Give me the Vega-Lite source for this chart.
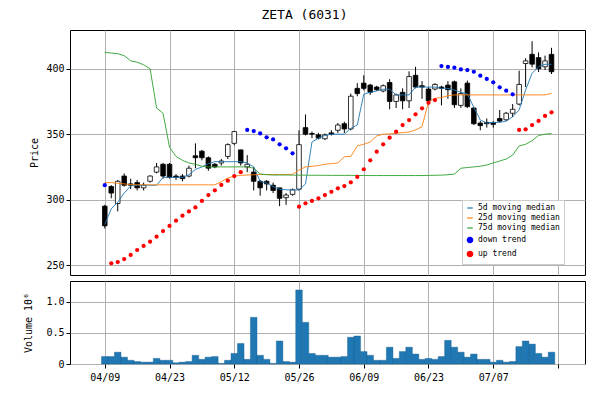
{
  "$schema": "https://vega.github.io/schema/vega-lite/v6.json",
  "title": {"text": "ZETA (6031)", "font": "DejaVu Sans Mono", "fontSize": 13, "fontWeight": "normal", "offset": 8, "anchor": "middle"},
  "padding": {"left": 23, "top": 8, "right": 10, "bottom": 5},
  "spacing": 0,
  "config": {
    "font": "DejaVu Sans Mono",
    "view": {"stroke": "black", "strokeWidth": 1},
    "axis": {"labelFont": "DejaVu Sans Mono", "titleFont": "DejaVu Sans Mono", "labelFontSize": 10, "titleFontSize": 10, "titleFontWeight": "normal", "labelColor": "black", "titleColor": "black", "domain": false, "tickColor": "black", "gridColor": "#b0b0b0", "gridOpacity": 1, "tickSize": 4}
  },
  "datasets": {
    "stock": [
      {"i":0,"o":295,"h":296,"l":278,"c":280,"v":120000,"m5":281,"m25":313,"m75":412.5,"down":311,"up":null},
      {"i":1,"o":310,"h":311,"l":301,"c":305,"v":120000,"m5":293,"m25":313,"m75":412,"down":null,"up":251.3},
      {"i":2,"o":297,"h":315,"l":291,"c":314,"v":190000,"m5":298,"m25":312.5,"m75":411.5,"down":null,"up":252.3},
      {"i":3,"o":318,"h":320,"l":310,"c":311,"v":110000,"m5":305,"m25":312,"m75":410,"down":null,"up":254.6},
      {"i":4,"o":312,"h":316,"l":308,"c":311,"v":60000,"m5":310.5,"m25":311.5,"m75":406,"down":null,"up":257.7},
      {"i":5,"o":313,"h":315,"l":307,"c":309,"v":40000,"m5":311,"m25":311.3,"m75":405,"down":null,"up":261.5},
      {"i":6,"o":309,"h":313,"l":307,"c":311,"v":30000,"m5":311,"m25":311.3,"m75":403,"down":null,"up":264.6},
      {"i":7,"o":314,"h":318.5,"l":313,"c":318,"v":30000,"m5":311,"m25":311.3,"m75":400,"down":null,"up":267.9},
      {"i":8,"o":321,"h":328,"l":320,"c":325,"v":90000,"m5":311,"m25":311.3,"m75":370,"down":null,"up":271.7},
      {"i":9,"o":327,"h":328,"l":316,"c":318,"v":60000,"m5":317,"m25":311.3,"m75":366,"down":null,"up":276},
      {"i":10,"o":327,"h":328,"l":316,"c":317,"v":60000,"m5":317,"m25":311.3,"m75":340,"down":null,"up":279.9},
      {"i":11,"o":318,"h":319.5,"l":315,"c":317,"v":20000,"m5":317,"m25":311.3,"m75":333,"down":null,"up":283.9},
      {"i":12,"o":318,"h":319.5,"l":314,"c":316,"v":30000,"m5":317,"m25":311.3,"m75":330,"down":null,"up":287.7},
      {"i":13,"o":318,"h":326,"l":317,"c":324,"v":40000,"m5":319,"m25":311.3,"m75":328,"down":null,"up":291},
      {"i":14,"o":333.5,"h":343,"l":324,"c":332,"v":140000,"m5":323,"m25":311.3,"m75":327,"down":null,"up":294},
      {"i":15,"o":337,"h":338,"l":330,"c":332,"v":75000,"m5":325,"m25":311.3,"m75":325.5,"down":null,"up":299},
      {"i":16,"o":332,"h":333,"l":322,"c":324,"v":110000,"m5":327.5,"m25":311.3,"m75":325,"down":null,"up":303.5},
      {"i":17,"o":327,"h":328,"l":324,"c":325,"v":120000,"m5":329,"m25":311.3,"m75":325,"down":null,"up":307.1},
      {"i":18,"o":328,"h":331,"l":326,"c":329.5,"v":10000,"m5":329,"m25":313.7,"m75":325,"down":null,"up":311.2},
      {"i":19,"o":333,"h":343,"l":331,"c":342,"v":60000,"m5":329,"m25":316.5,"m75":325,"down":null,"up":314.5},
      {"i":20,"o":343,"h":352.5,"l":341.5,"c":352,"v":170000,"m5":329,"m25":318,"m75":325,"down":null,"up":318},
      {"i":21,"o":338,"h":338,"l":326,"c":328,"v":330000,"m5":329,"m25":318.5,"m75":325,"down":null,"up":321},
      {"i":22,"o":325,"h":334,"l":321,"c":327,"v":75000,"m5":328,"m25":318.8,"m75":325,"down":353.2,"up":null},
      {"i":23,"o":321,"h":325,"l":307,"c":314,"v":750000,"m5":325,"m25":319,"m75":324,"down":352.4,"up":null},
      {"i":24,"o":314,"h":315,"l":303,"c":309,"v":140000,"m5":314,"m25":319.2,"m75":319.6,"down":350.6,"up":null},
      {"i":25,"o":314,"h":315,"l":307,"c":312,"v":75000,"m5":312.5,"m25":319.2,"m75":319,"down":347.6,"up":null},
      {"i":26,"o":311,"h":313,"l":305,"c":307,"v":10000,"m5":310,"m25":319.2,"m75":318.8,"down":346,"up":null},
      {"i":27,"o":309,"h":309,"l":295,"c":301,"v":370000,"m5":308,"m25":319.2,"m75":318.8,"down":342.3,"up":null},
      {"i":28,"o":301.5,"h":305,"l":296,"c":303.5,"v":40000,"m5":307.5,"m25":319.2,"m75":318.8,"down":339.2,"up":null},
      {"i":29,"o":304,"h":308.5,"l":303,"c":307.5,"v":30000,"m5":307.4,"m25":319.3,"m75":318.7,"down":335.4,"up":null},
      {"i":30,"o":308,"h":353,"l":307,"c":342,"v":1190000,"m5":307.4,"m25":322.6,"m75":318.7,"down":null,"up":294.6},
      {"i":31,"o":355,"h":365,"l":349,"c":350,"v":670000,"m5":312,"m25":325,"m75":318.7,"down":null,"up":297.2},
      {"i":32,"o":350.5,"h":352,"l":347,"c":350,"v":170000,"m5":344,"m25":325.5,"m75":318.6,"down":null,"up":299},
      {"i":33,"o":349.5,"h":351,"l":346,"c":347,"v":140000,"m5":347,"m25":326,"m75":318.6,"down":null,"up":301},
      {"i":34,"o":346.5,"h":350.5,"l":345.5,"c":349.5,"v":140000,"m5":349,"m25":327,"m75":318.6,"down":null,"up":303.5},
      {"i":35,"o":351,"h":353,"l":349,"c":350,"v":110000,"m5":350,"m25":327.5,"m75":318.5,"down":null,"up":306},
      {"i":36,"o":353,"h":358.5,"l":351,"c":357,"v":110000,"m5":350,"m25":328,"m75":318.5,"down":null,"up":308.6},
      {"i":37,"o":358,"h":359.5,"l":351,"c":354,"v":120000,"m5":350,"m25":332.8,"m75":318.5,"down":null,"up":310.4},
      {"i":38,"o":354,"h":381,"l":353,"c":379,"v":430000,"m5":354.5,"m25":333,"m75":318.5,"down":null,"up":313.2},
      {"i":39,"o":385,"h":389,"l":379,"c":381,"v":450000,"m5":357,"m25":341,"m75":318.5,"down":null,"up":317.3},
      {"i":40,"o":389,"h":395,"l":383.5,"c":385,"v":200000,"m5":380.5,"m25":342.3,"m75":318.4,"down":null,"up":323.2},
      {"i":41,"o":387.5,"h":388.5,"l":380,"c":382,"v":140000,"m5":382,"m25":344,"m75":318.4,"down":null,"up":330},
      {"i":42,"o":386,"h":387,"l":383,"c":384,"v":60000,"m5":383,"m25":348.6,"m75":318.4,"down":null,"up":336.6},
      {"i":43,"o":383,"h":388,"l":382,"c":387,"v":60000,"m5":384.3,"m25":350,"m75":318.4,"down":null,"up":342.3},
      {"i":44,"o":389.5,"h":392,"l":369,"c":375,"v":270000,"m5":384.3,"m25":350.2,"m75":318.4,"down":null,"up":347.3},
      {"i":45,"o":375,"h":381,"l":370,"c":380,"v":90000,"m5":380,"m25":350.7,"m75":318.4,"down":null,"up":351.9},
      {"i":46,"o":382,"h":385,"l":369,"c":375.5,"v":200000,"m5":380,"m25":351.2,"m75":318.4,"down":null,"up":357},
      {"i":47,"o":375.5,"h":398,"l":370,"c":394,"v":270000,"m5":380,"m25":351.6,"m75":318.4,"down":null,"up":360.8},
      {"i":48,"o":395,"h":401.5,"l":385,"c":386,"v":160000,"m5":386,"m25":353.2,"m75":318.4,"down":null,"up":365.2},
      {"i":49,"o":387,"h":390.5,"l":377,"c":386,"v":75000,"m5":386,"m25":355.7,"m75":318.4,"down":null,"up":369.8},
      {"i":50,"o":384.5,"h":386,"l":374,"c":375.5,"v":90000,"m5":386,"m25":374.8,"m75":318.5,"down":null,"up":374},
      {"i":51,"o":384.5,"h":389,"l":383.5,"c":388,"v":75000,"m5":386,"m25":377.4,"m75":318.6,"down":null,"up":376.1},
      {"i":52,"o":386,"h":387,"l":372,"c":385,"v":120000,"m5":385,"m25":378,"m75":318.7,"down":402,"up":null},
      {"i":53,"o":387.5,"h":390.5,"l":377,"c":384,"v":380000,"m5":385,"m25":379.4,"m75":319,"down":401.4,"up":null},
      {"i":54,"o":390,"h":391,"l":370,"c":372.5,"v":270000,"m5":383.7,"m25":380,"m75":319.5,"down":400.8,"up":null},
      {"i":55,"o":372,"h":385,"l":370,"c":381,"v":190000,"m5":382,"m25":380,"m75":324,"down":399.5,"up":null},
      {"i":56,"o":389,"h":391,"l":370,"c":371,"v":110000,"m5":380.7,"m25":380,"m75":324.5,"down":399,"up":null},
      {"i":57,"o":370,"h":370.5,"l":357,"c":358,"v":160000,"m5":370.5,"m25":380,"m75":325,"down":397.7,"up":null},
      {"i":58,"o":358.5,"h":360,"l":353,"c":356.5,"v":75000,"m5":360.8,"m25":380,"m75":325.5,"down":394.7,"up":null},
      {"i":59,"o":359,"h":362,"l":355,"c":358,"v":75000,"m5":358.5,"m25":380,"m75":326.5,"down":392.2,"up":null},
      {"i":60,"o":358.8,"h":360,"l":355,"c":357.5,"v":30000,"m5":359,"m25":380,"m75":328,"down":389.6,"up":null},
      {"i":61,"o":362,"h":368.5,"l":359,"c":360,"v":60000,"m5":359,"m25":380,"m75":329.5,"down":385.8,"up":null},
      {"i":62,"o":361,"h":367,"l":360,"c":366,"v":30000,"m5":360,"m25":380,"m75":331,"down":383.2,"up":null},
      {"i":63,"o":366,"h":373,"l":363,"c":369,"v":40000,"m5":363.3,"m25":380,"m75":334,"down":380.5,"up":null},
      {"i":64,"o":373,"h":398.5,"l":372,"c":388,"v":280000,"m5":368.5,"m25":380,"m75":341,"down":null,"up":353.2},
      {"i":65,"o":404,"h":408,"l":386,"c":406,"v":370000,"m5":383.8,"m25":380,"m75":342.3,"down":null,"up":353.7},
      {"i":66,"o":411,"h":421,"l":401,"c":403.5,"v":320000,"m5":396.5,"m25":380,"m75":345,"down":null,"up":357},
      {"i":67,"o":408.5,"h":412.5,"l":397.5,"c":400,"v":170000,"m5":401.6,"m25":380,"m75":349,"down":null,"up":360.1},
      {"i":68,"o":401.5,"h":410,"l":399,"c":406,"v":110000,"m5":403.4,"m25":380,"m75":350,"down":null,"up":363.9},
      {"i":69,"o":411,"h":416,"l":396,"c":397.7,"v":190000,"m5":403.4,"m25":381.2,"m75":350.5,"down":null,"up":366.7}
    ]
  },
  "vconcat": [
    {
      "width": 515,
      "height": 245,
      "data": {"name": "stock"},
      "encoding": {
        "x": {"field": "i", "type": "quantitative", "scale": {"domain": [-4.6, 73.4], "nice": false, "zero": false},
          "axis": {"values": [0, 10, 20, 30, 40, 50, 60, 70], "labels": false, "ticks": false, "title": null, "grid": true, "minExtent": 0, "maxExtent": 0, "offset": 0}}
      },
      "layer": [
        {
          "mark": {"type": "rule", "color": "black", "strokeWidth": 1},
          "encoding": {
            "y": {"field": "l", "type": "quantitative", "scale": {"domain": [242.4, 429.6], "nice": false, "zero": false},
              "axis": {"values": [250, 275, 300, 325, 350, 375, 400, 425], "title": "Price", "titlePadding": 6, "grid": true}},
            "y2": {"field": "h"}
          }
        },
        {
          "mark": {"type": "bar", "width": 4.6, "stroke": "black", "strokeWidth": 0.8},
          "encoding": {
            "y": {"field": "o", "type": "quantitative"},
            "y2": {"field": "c"},
            "fill": {"condition": {"test": "datum.c >= datum.o", "value": "white"}, "value": "black"}
          }
        },
        {
          "transform": [
            {"fold": ["m5", "m25", "m75"], "as": ["series", "value"]}
          ],
          "mark": {"type": "line", "strokeWidth": 0.9},
          "encoding": {
            "y": {"field": "value", "type": "quantitative"},
            "color": {"field": "series", "type": "nominal",
              "scale": {"domain": ["m5", "m25", "m75", "down", "up"], "range": ["#1f77b4", "#ff7f0e", "#2ca02c", "#0000ff", "#ff0000"]},
              "legend": {"orient": "none", "legendX": 392, "legendY": 170, "title": null, "labelFont": "DejaVu Sans Mono", "labelFontSize": 8,
                "labelExpr": "{'m5': ' 5d moving median', 'm25': '25d moving median', 'm75': '75d moving median', 'down': 'down trend', 'up': 'up trend'}[datum.value]",
                "fillColor": "white", "strokeColor": "#cccccc", "padding": 4, "rowPadding": 2, "symbolSize": 30, "symbolStrokeWidth": 1.2}}
          }
        },
        {
          "transform": [
            {"fold": ["down", "up"], "as": ["series", "value"]},
            {"filter": "datum.value != null"}
          ],
          "mark": {"type": "point", "filled": true, "size": 18, "opacity": 1},
          "encoding": {
            "y": {"field": "value", "type": "quantitative"},
            "color": {"field": "series", "type": "nominal"},
            "shape": {"field": "series", "type": "nominal",
              "scale": {"domain": ["m5", "m25", "m75", "down", "up"], "range": ["stroke", "stroke", "stroke", "circle", "circle"]}}
          }
        }
      ]
    },
    {
      "width": 515,
      "height": 83,
      "data": {"name": "stock"},
      "mark": {"type": "bar", "width": 6.6, "color": "#1f77b4", "stroke": "#1a5f91", "strokeWidth": 0.4},
      "encoding": {
        "x": {"field": "i", "type": "quantitative", "scale": {"domain": [-4.6, 73.4], "nice": false, "zero": false},
          "axis": {"values": [0, 10, 20, 30, 40, 50, 60, 70], "title": null, "grid": true, "labelPadding": 4,
            "labelExpr": "['04/09','04/23','05/12','05/26','06/09','06/23','07/07',''][datum.value / 10]"}},
        "y": {"field": "v", "type": "quantitative", "scale": {"domain": [0, 1334000], "nice": false},
          "axis": {"values": [0, 500000, 1000000], "title": "Volume      10⁶", "titlePadding": 12, "grid": true,
            "labelExpr": "datum.value == 0 ? '0' : format(datum.value / 1000000, '.1f')"}}
      }
    }
  ]
}
